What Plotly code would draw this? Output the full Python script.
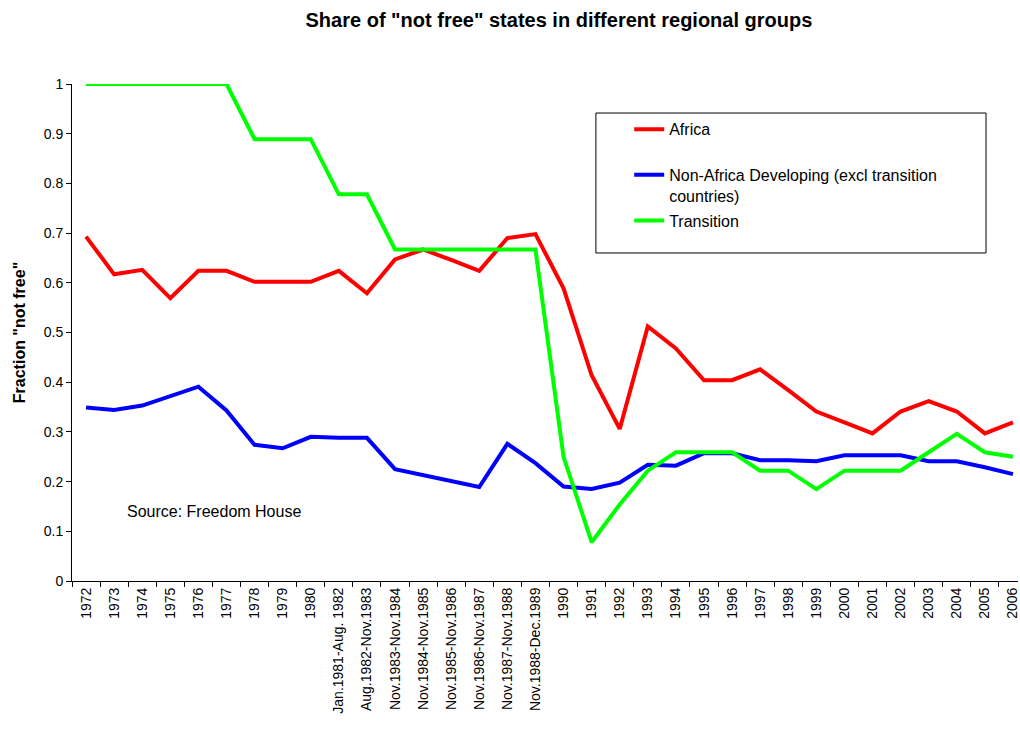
import plotly.graph_objects as go

categories = ["1972", "1973", "1974", "1975", "1976", "1977", "1978", "1979", "1980",
              "Jan.1981-Aug. 1982", "Aug.1982-Nov.1983", "Nov.1983-Nov.1984",
              "Nov.1984-Nov.1985", "Nov.1985-Nov.1986", "Nov.1986-Nov.1987",
              "Nov.1987-Nov.1988", "Nov.1988-Dec.1989",
              "1990", "1991", "1992", "1993", "1994", "1995", "1996", "1997", "1998",
              "1999", "2000", "2001", "2002", "2003", "2004", "2005", "2006"]

africa = [0.693, 0.617, 0.626, 0.569, 0.624, 0.624, 0.602, 0.602, 0.602, 0.624,
          0.579, 0.647, 0.667, 0.646, 0.624, 0.690, 0.698, 0.589, 0.414, 0.306,
          0.512, 0.468, 0.404, 0.404, 0.426, 0.384, 0.341, 0.319, 0.297, 0.341,
          0.362, 0.341, 0.297, 0.319]

non_africa = [0.349, 0.344, 0.353, 0.372, 0.391, 0.343, 0.274, 0.267, 0.290, 0.288,
              0.288, 0.225, 0.213, 0.201, 0.189, 0.276, 0.237, 0.190, 0.185, 0.198,
              0.234, 0.232, 0.257, 0.257, 0.243, 0.243, 0.241, 0.253, 0.253, 0.253,
              0.241, 0.241, 0.229, 0.215]

transition = [1.0, 1.0, 1.0, 1.0, 1.0, 1.0, 0.889, 0.889, 0.889, 0.778,
              0.778, 0.667, 0.667, 0.667, 0.667, 0.667, 0.667, 0.25, 0.078, 0.154,
              0.222, 0.259, 0.259, 0.259, 0.222, 0.222, 0.185, 0.222, 0.222, 0.222,
              0.259, 0.296, 0.259, 0.25]

series_names = ["Africa<br> ", "Non-Africa Developing (excl transition<br>countries)", "Transition"]
series_colors = ["#FF0000", "#0000FF", "#00FF00"]

FONT = "Liberation Sans, Arial, sans-serif"

fig = go.Figure()
for name, vals, col in zip(series_names, [africa, non_africa, transition], series_colors):
    fig.add_trace(go.Scatter(x=categories, y=vals, mode="lines", name=name,
                             legendgroup=name,
                             line=dict(color=col, width=4)))

fig.update_layout(
    width=1020, height=742,
    margin=dict(l=72, r=0, t=84, b=161),
    paper_bgcolor="white", plot_bgcolor="white",
    font=dict(family=FONT, size=14, color="black"),
    title=dict(text='<b>Share of "not free" states in different regional groups</b>',
               x=0.548, xanchor="center", y=0.973, yanchor="middle",
               font=dict(family=FONT, size=20, color="black")),
    showlegend=True,
    legend=dict(x=0.589, y=0.943, xanchor="left", yanchor="top",
                bgcolor="rgba(0,0,0,0)", borderwidth=0,
                font=dict(family=FONT, size=16, color="black"),
                tracegroupgap=1, valign="top", traceorder="grouped"),
    xaxis=dict(type="category", range=[-0.5, 33.18], tickangle=-90,
               showline=True, linecolor="black", linewidth=1,
               ticks="outside", ticklen=5, tickcolor="black", tickson="boundaries",
               showgrid=False, zeroline=False,
               tickfont=dict(family=FONT, size=14, color="black")),
    yaxis=dict(range=[0, 1], dtick=0.1, tick0=0,
               showline=True, linecolor="black", linewidth=1,
               ticks="outside", ticklen=5, tickcolor="black",
               showgrid=False, zeroline=False,
               tickfont=dict(family=FONT, size=14, color="black"),
               title=dict(text='<b>Fraction "not free"</b>', standoff=14,
                          font=dict(family=FONT, size=16, color="black"))),
    shapes=[dict(type="rect", xref="paper", yref="paper",
                 x0=0.5538, x1=0.9662, y0=0.66, y1=0.9416,
                 line=dict(color="black", width=1), fillcolor="rgba(0,0,0,0)")],
    annotations=[dict(text="Source: Freedom House", xref="paper", yref="paper",
                      x=0.0559, y=0.139, xanchor="left", yanchor="middle",
                      showarrow=False, font=dict(family=FONT, size=16, color="black"))],
)

fig.write_html("out.html", config={"displayModeBar": False},
               post_script="document.body.style.margin='0';document.body.style.overflow='hidden';")
